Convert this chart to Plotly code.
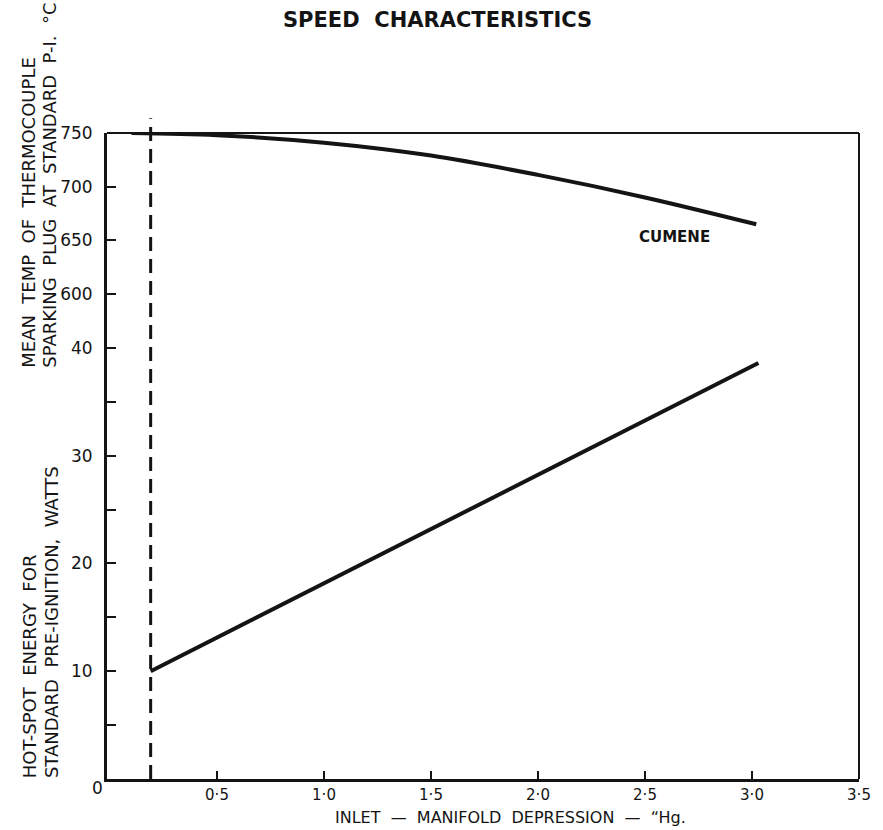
import plotly.graph_objects as go

# ---- data ----
temp_x = [0.1, 0.5, 1.0, 1.5, 2.0, 2.5, 3.02]
temp_cumene = [750, 748, 741, 729, 711, 690, 665]

energy_x = [0.19, 3.03]
energy_watts = [10, 38.6]

dashed_x = 0.19

x_tickvals = [0.5, 1.0, 1.5, 2.0, 2.5, 3.0, 3.5]
x_ticktext = ["0·5", "1·0", "1·5", "2·0", "2·5", "3·0", "3·5"]
energy_tickvals = [5, 10, 15, 20, 25, 30, 35, 40]
energy_ticktext = ["", "10", "", "20", "", "30", "", "40"]
temp_tickvals = [600, 650, 700, 750]
temp_ticktext = ["600", "650", "700", "750"]

INK = "#141414"
FONT = "DejaVu Sans"
SP = "\u00a0\u00a0"

fig = go.Figure()
fig.add_trace(go.Scatter(x=temp_x, y=temp_cumene, mode="lines", yaxis="y2",
                         line=dict(color=INK, width=4, shape="spline"),
                         showlegend=False, name="Cumene temp"))
fig.add_trace(go.Scatter(x=energy_x, y=energy_watts, mode="lines", yaxis="y",
                         line=dict(color=INK, width=4),
                         showlegend=False, name="Hot-spot energy"))

axis_common = dict(showline=True, linecolor=INK, linewidth=3, showgrid=False,
                   zeroline=False, ticks="inside", tickcolor=INK, tickwidth=2)

fig.update_layout(
    width=883, height=830,
    margin=dict(l=107, r=22, t=133, b=51),
    paper_bgcolor="white", plot_bgcolor="white",
    xaxis=dict(range=[-0.014, 3.5], tickvals=x_tickvals, ticktext=x_ticktext,
               ticklen=8, ticklabelstandoff=0,
               tickfont=dict(family=FONT, size=15, color=INK), **axis_common),
    yaxis=dict(domain=[0, 0.709], range=[0, 42.5], tickvals=energy_tickvals,
               ticktext=energy_ticktext, ticklen=9, ticklabelstandoff=8,
               tickfont=dict(family=FONT, size=17, color=INK), **axis_common),
    yaxis2=dict(domain=[0.709, 1], range=[575, 750], anchor="x", tickvals=temp_tickvals,
                ticktext=temp_ticktext, ticklen=9, ticklabelstandoff=8,
                tickfont=dict(family=FONT, size=17, color=INK), **axis_common),
)

# frame top and right
fig.add_shape(type="line", xref="paper", yref="paper", x0=0, x1=1, y0=1, y1=1,
              line=dict(color=INK, width=2))
fig.add_shape(type="line", xref="paper", yref="paper", x0=1, x1=1, y0=0, y1=1,
              line=dict(color=INK, width=2))
# dashed vertical line
fig.add_shape(type="line", xref="x", yref="paper", x0=dashed_x, x1=dashed_x, y0=0, y1=1.023,
              line=dict(color=INK, width=3, dash="14px,8px"))

ann = []
ann.append(dict(text="SPEED" + SP + "CHARACTERISTICS", xref="paper", yref="paper",
                x=0.440, y=1.175, xanchor="center", yanchor="middle", showarrow=False,
                font=dict(family=FONT, size=21, color=INK, weight="bold")))
ann.append(dict(text="CUMENE", xref="x", yref="y2", x=2.64, y=653, showarrow=False,
                xanchor="center", yanchor="middle",
                font=dict(family=FONT, size=15, color=INK, weight="bold")))
ann.append(dict(text="0", xref="paper", yref="paper", x=-0.012, y=-0.014, showarrow=False,
                xanchor="center", yanchor="middle", font=dict(family=FONT, size=17, color=INK)))
ann.append(dict(text="INLET" + SP + "—" + SP + "MANIFOLD" + SP + "DEPRESSION" + SP + "—" + SP + "“Hg.",
                xref="paper", yref="paper", x=0.536, y=-0.06, showarrow=False,
                xanchor="center", yanchor="middle", font=dict(family=FONT, size=16, color=INK)))
ytitles = [
    ("MEAN" + SP + "TEMP" + SP + "OF" + SP + "THERMOCOUPLE", -0.1048, 0.633),
    ("SPARKING" + SP + "PLUG" + SP + "AT" + SP + "STANDARD" + SP + "P-I." + SP + "°C", -0.0769, 0.633),
    ("HOT-SPOT" + SP + "ENERGY" + SP + "FOR", -0.102, -0.0015),
    ("STANDARD" + SP + "PRE-IGNITION," + SP + "WATTS", -0.073, -0.0015),
]
for t, xp, yp in ytitles:
    ann.append(dict(text=t, xref="paper", yref="paper", x=xp, y=yp, textangle=-90,
                    xanchor="center", yanchor="bottom", showarrow=False,
                    font=dict(family=FONT, size=18, color=INK)))
fig.update_layout(annotations=ann)

fig.write_html("out.html")
